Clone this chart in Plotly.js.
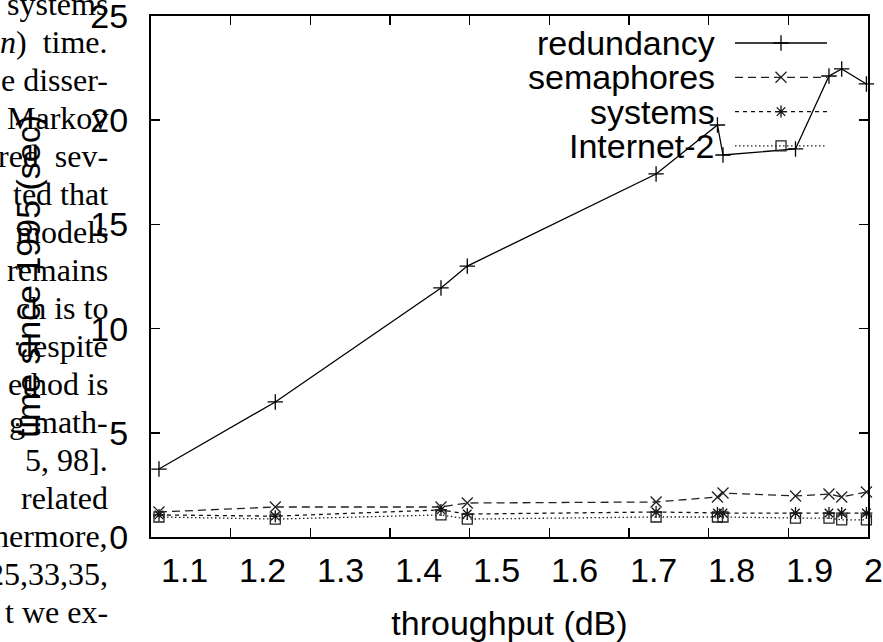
<!DOCTYPE html>
<html>
<head>
<meta charset="utf-8">
<script src="https://cdn.plot.ly/plotly-3.0.1.min.js"></script>
<style>html,body{margin:0;padding:0;background:#fff;}#chart{width:883px;height:642px;}</style>
</head>
<body>
<div id="chart"></div>
<script>
// ---- data ----
const throughput = [1.110, 1.256, 1.464, 1.497, 1.734, 1.811, 1.818, 1.909, 1.951, 1.967, 1.998];
const redundancy = [3.26, 6.48, 11.95, 13.0, 17.42, 19.77, 18.33, 18.62, 22.12, 22.46, 21.74];
const semaphores = [1.20, 1.44, 1.44, 1.63, 1.68, 1.92, 2.11, 1.97, 2.06, 1.92, 2.16];
const systems    = [1.06, 1.00, 1.30, 1.10, 1.20, 1.15, 1.15, 1.15, 1.15, 1.15, 1.15];
const internet2  = [0.96, 0.86, 1.06, 0.86, 0.96, 0.96, 0.96, 0.91, 0.91, 0.82, 0.82];
const seriesNames = ['redundancy', 'semaphores', 'systems', 'Internet-2'];
const xTickVals = [1.1, 1.2, 1.3, 1.4, 1.5, 1.6, 1.7, 1.8, 1.9, 2.0];
const xTickText = ['1.1', '1.2', '1.3', '1.4', '1.5', '1.6', '1.7', '1.8', '1.9', '2'];
const yTickVals = [0, 5, 10, 15, 20, 25];
const xTitle = 'throughput (dB)';
const yTitle = 'time since 1995 (sec)';
// fragments of the paper's text visible at the left edge (justified lines)
const sideText = ['systems', '<i>n</i>)\u00a0 time.', 'e disser-', 'Markov', 'red\u00a0 sev-', 'ted that',
  'models', 'remains', 'ch is to', 'despite', 'ethod is', 'g math-', '5, 98].', 'related',
  'hermore,', '25,33,35,', 't we ex-'];

// ---- layout constants ----
const W = 883, H = 642, L = 151, R = 15, T = 16, B = 105;
const PW = W - L - R, PH = H - T - B;
const px2x = p => (p - L) / PW;
const py2y = p => 1 - (p - T) / PH;
const sans = 'Liberation Sans, Arial, sans-serif';
const serif = 'Liberation Serif, Times New Roman, serif';

const styles = [
  {dash: 'solid', symbol: 'cross-thin-open', size: 11, color: '#000'},
  {dash: '8px,5px', symbol: 'x-thin-open', size: 11, color: '#222'},
  {dash: '4px,4px', symbol: 'asterisk-open', size: 10, color: '#111'},
  {dash: '1.5px,2.5px', symbol: 'square-open', size: 10, color: '#222'}
];
const values = [redundancy, semaphores, systems, internet2];

const traces = [];
values.forEach((v, k) => {
  const s = styles[k];
  traces.push({
    type: 'scatter', mode: 'lines+markers', x: throughput, y: v, name: seriesNames[k],
    line: {color: s.color, width: 1.3, dash: s.dash},
    marker: {symbol: s.symbol, size: s.size, color: s.color, line: {color: s.color, width: 1.3}},
    cliponaxis: false, hoverinfo: 'skip'
  });
});

// custom legend (text on left, key on right, gnuplot style)
const annotations = [];
seriesNames.forEach((nm, k) => {
  const s = styles[k];
  const yy = py2y(43 + 34.3 * k);
  traces.push({type: 'scatter', mode: 'lines', xaxis: 'x2', yaxis: 'y2',
    x: [px2x(735), px2x(827)], y: [yy, yy], showlegend: false, hoverinfo: 'skip',
    line: {color: s.color, width: 1.3, dash: s.dash}});
  traces.push({type: 'scatter', mode: 'markers', xaxis: 'x2', yaxis: 'y2',
    x: [px2x(781)], y: [yy], showlegend: false, hoverinfo: 'skip',
    marker: {symbol: s.symbol, size: s.size, color: s.color, line: {color: s.color, width: 1.3}}});
  annotations.push({xref: 'paper', yref: 'paper', x: px2x(716), y: yy, xanchor: 'right', yanchor: 'middle',
    text: nm, showarrow: false, font: {family: sans, size: 34, color: '#000'}, borderpad: 0});
});

// x tick labels (shifted like the reference)
xTickVals.forEach((v, i) => {
  annotations.push({xref: 'x', yref: 'paper', x: v, y: 0, xanchor: 'left', yanchor: 'top',
    xshift: 8.5 - 1.5 * i, yshift: -13, text: xTickText[i], showarrow: false,
    font: {family: sans, size: 34, color: '#000'}, borderpad: 0});
});

// side text fragments
sideText.forEach((t, i) => {
  annotations.push({xref: 'paper', yref: 'paper', x: px2x(109), y: py2y(4 + 38 * i),
    xanchor: 'right', yanchor: 'middle', text: t, showarrow: false,
    font: {family: serif, size: 32, color: '#000'}, borderpad: 0});
});

const layout = {
  width: W, height: H,
  margin: {l: L, r: R, t: T, b: B, pad: 0},
  paper_bgcolor: '#fff', plot_bgcolor: '#fff',
  showlegend: false,
  font: {family: sans, size: 34, color: '#000'},
  xaxis: {
    range: [1.1, 2.0], tickvals: xTickVals, showticklabels: false,
    ticks: 'inside', ticklen: 9, tickwidth: 1.5, tickcolor: '#000',
    showline: true, linecolor: '#000', linewidth: 2, mirror: 'ticks',
    showgrid: false, zeroline: false,
    title: {text: xTitle, font: {family: sans, size: 34, color: '#000'}, standoff: 80}
  },
  yaxis: {
    range: [0, 25], tickvals: yTickVals,
    ticks: 'inside', ticklen: 9, tickwidth: 1.5, tickcolor: '#000',
    showline: true, linecolor: '#000', linewidth: 2, mirror: 'ticks',
    showgrid: false, zeroline: false, ticklabelstandoff: 14, ticklabeloverflow: 'allow',
    tickfont: {family: sans, size: 34, color: '#000'},
    title: {text: yTitle, font: {family: sans, size: 34, color: '#000'}, standoff: 39}
  },
  xaxis2: {overlaying: 'x', range: [0, 1], visible: false, fixedrange: true},
  yaxis2: {overlaying: 'y', range: [0, 1], visible: false, fixedrange: true},
  annotations: annotations
};

Plotly.newPlot('chart', traces, layout, {staticPlot: true, displayModeBar: false});
</script>
</body>
</html>
